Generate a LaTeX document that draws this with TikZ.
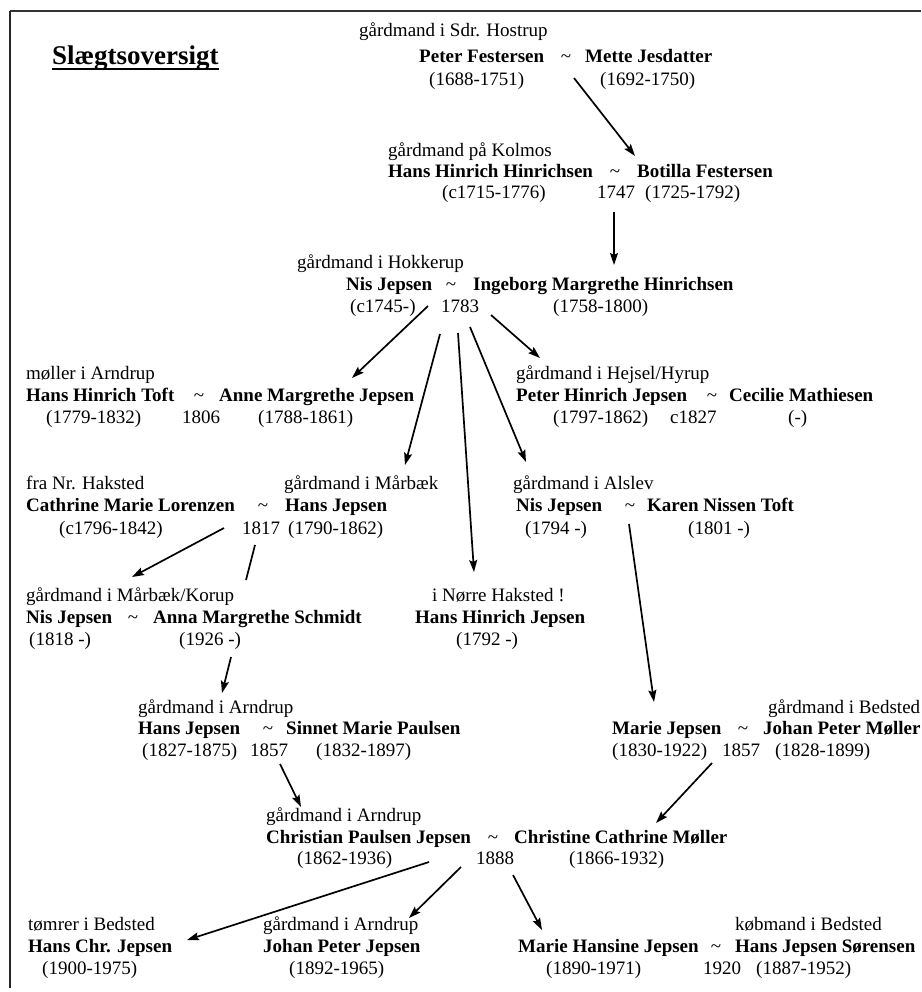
\documentclass[tikz,border=0pt]{standalone}
\usepackage{fontspec}
\setmainfont{Liberation Serif}
\usetikzlibrary{arrows.meta}
\begin{document}
\begin{tikzpicture}[x=1pt,y=-1pt,
  occ/.style={anchor=base west, inner sep=0pt, font=\fontsize{19}{22}\selectfont},
  nm/.style={anchor=base west, inner sep=0pt, font=\fontsize{19}{22}\selectfont\bfseries},
  tl/.style={anchor=base, inner sep=0pt, font=\fontsize{19}{22}\selectfont},
  arr/.style={line width=1.7pt, -{Stealth[length=12pt,width=8pt,inset=2pt]}},
  ln/.style={line width=1.7pt}]
\useasboundingbox (0,0) rectangle (921,992);
\fill[white] (0,0) rectangle (921,992);
% frame
\coordinate (fTL) at (10,11);
\coordinate (fTR) at (921,11);
\coordinate (fBL) at (10,988);
\draw[line width=2.5pt, black!80] (fTL) -- (fTR);
\draw[line width=1.5pt, black!85] (fTL) -- (fBL);
% title
\node[anchor=base west, inner sep=0pt, font=\fontsize{27}{30}\selectfont\bfseries] (title) at (52,65) {Slægtsoversigt};
\draw[line width=1.2pt] ([yshift=-4pt]title.base west) -- ([yshift=-4pt]title.base east);
% A
\node[occ] (Ao) at (359,37) {gårdmand i Sdr. Hostrup};
\node[nm] (Ah) at (419,63) {Peter Festersen};
\node[tl] (At) at (566,63) {\textasciitilde};
\node[nm] (Aw) at (585,63) {Mette Jesdatter};
\node[occ] (Ahd) at (429,86) {(1688-1751)};
\node[occ] (Awd) at (600,86) {(1692-1750)};
% B
\node[occ] (Bo) at (388,157) {gårdmand på Kolmos};
\node[nm] (Bh) at (388,178) {Hans Hinrich Hinrichsen};
\node[tl] (Bt) at (615,178) {\textasciitilde};
\node[nm] (Bw) at (637,178) {Botilla Festersen};
\node[occ] (Bhd) at (442,199) {(c1715-1776)};
\node[occ] (By) at (597,199) {1747};
\node[occ] (Bwd) at (645,199) {(1725-1792)};
% C
\node[occ] (Co) at (297,268) {gårdmand i Hokkerup};
\node[nm] (Ch) at (346,290) {Nis Jepsen};
\node[tl] (Ct) at (451,290) {\textasciitilde};
\node[nm] (Cw) at (473,290) {Ingeborg Margrethe Hinrichsen};
\node[occ] (Chd) at (350,312) {(c1745-)};
\node[occ] (Cy) at (441,312) {1783};
\node[occ] (Cwd) at (553,312) {(1758-1800)};
% D
\node[occ] (Do) at (26,379) {møller i Arndrup};
\node[nm] (Dh) at (26,401) {Hans Hinrich Toft};
\node[tl] (Dt) at (199,401) {\textasciitilde};
\node[nm] (Dw) at (219,401) {Anne Margrethe Jepsen};
\node[occ] (Dhd) at (46,423) {(1779-1832)};
\node[occ] (Dy) at (182,423) {1806};
\node[occ] (Dwd) at (258,423) {(1788-1861)};
% E
\node[occ] (Eo) at (516,379) {gårdmand i Hejsel/Hyrup};
\node[nm] (Eh) at (516,401) {Peter Hinrich Jepsen};
\node[tl] (Et) at (712,401) {\textasciitilde};
\node[nm] (Ew) at (729,401) {Cecilie Mathiesen};
\node[occ] (Ehd) at (553,423) {(1797-1862)};
\node[occ] (Ey) at (670,423) {c1827};
\node[occ] (Ewd) at (788,423) {(-)};
% F
\node[occ] (Fo1) at (26,489) {fra Nr. Haksted};
\node[occ] (Fo2) at (284,489) {gårdmand i Mårbæk};
\node[nm] (Fw) at (26,511) {Cathrine Marie Lorenzen};
\node[tl] (Ft) at (263,511) {\textasciitilde};
\node[nm] (Fh) at (285,511) {Hans Jepsen};
\node[occ] (Fwd) at (59,534) {(c1796-1842)};
\node[occ] (Fy) at (242,534) {1817};
\node[occ] (Fhd) at (288,534) {(1790-1862)};
% G
\node[occ] (Go) at (513,489) {gårdmand i Alslev};
\node[nm] (Gh) at (516,511) {Nis Jepsen};
\node[tl] (Gt) at (630,511) {\textasciitilde};
\node[nm] (Gw) at (647,511) {Karen Nissen Toft};
\node[occ] (Ghd) at (525,534) {(1794 -)};
\node[occ] (Gwd) at (688,534) {(1801 -)};
% H
\node[occ] (Ho) at (26,601) {gårdmand i Mårbæk/Korup};
\node[nm] (Hh) at (26,623) {Nis Jepsen};
\node[tl] (Ht) at (133,623) {\textasciitilde};
\node[nm] (Hw) at (153,623) {Anna Margrethe Schmidt};
\node[occ] (Hhd) at (29,645) {(1818 -)};
\node[occ] (Hwd) at (179,645) {(1926 -)};
% I
\node[occ] (Io) at (432,601) {i Nørre Haksted !};
\node[nm] (Ih) at (415,623) {Hans Hinrich Jepsen};
\node[occ] (Ihd) at (456,645) {(1792 -)};
% J
\node[occ] (Jo) at (138,713) {gårdmand i Arndrup};
\node[nm] (Jh) at (138,734) {Hans Jepsen};
\node[tl] (Jt) at (268,734) {\textasciitilde};
\node[nm] (Jw) at (286,734) {Sinnet Marie Paulsen};
\node[occ] (Jhd) at (142,756) {(1827-1875)};
\node[occ] (Jy) at (250,756) {1857};
\node[occ] (Jwd) at (316,756) {(1832-1897)};
% K
\node[occ] (Ko) at (768,713) {gårdmand i Bedsted};
\node[nm] (Kw) at (612,734) {Marie Jepsen};
\node[tl] (Kt) at (743,734) {\textasciitilde};
\node[nm] (Kh) at (763,734) {Johan Peter Møller};
\node[occ] (Kwd) at (612,756) {(1830-1922)};
\node[occ] (Ky) at (722,756) {1857};
\node[occ] (Khd) at (775,756) {(1828-1899)};
% L
\node[occ] (Lo) at (266,821) {gårdmand i Arndrup};
\node[nm] (Lh) at (266,843) {Christian Paulsen Jepsen};
\node[tl] (Lt) at (493,843) {\textasciitilde};
\node[nm] (Lw) at (514,843) {Christine Cathrine Møller};
\node[occ] (Lhd) at (297,864) {(1862-1936)};
\node[occ] (Ly) at (476,864) {1888};
\node[occ] (Lwd) at (569,864) {(1866-1932)};
% M
\node[occ] (Mo) at (28,930) {tømrer i Bedsted};
\node[nm] (Mh) at (28,952) {Hans Chr. Jepsen};
\node[occ] (Mhd) at (42,974) {(1900-1975)};
% N
\node[occ] (No) at (263,930) {gårdmand i Arndrup};
\node[nm] (Nh) at (263,952) {Johan Peter Jepsen};
\node[occ] (Nhd) at (289,974) {(1892-1965)};
% O
\node[occ] (Oo) at (735,930) {købmand i Bedsted};
\node[nm] (Ow) at (518,952) {Marie Hansine Jepsen};
\node[tl] (Ot) at (716,952) {\textasciitilde};
\node[nm] (Oh) at (735,952) {Hans Jepsen Sørensen};
\node[occ] (Owd) at (546,974) {(1890-1971)};
\node[occ] (Oy) at (703,974) {1920};
\node[occ] (Ohd) at (756,974) {(1887-1952)};
% connector end points
\coordinate (s1) at (574,78);  \coordinate (e1) at (635,156);
\coordinate (s2) at (614,212); \coordinate (e2) at (614,265);
\coordinate (s3) at (428,306); \coordinate (e3) at (352,378);
\coordinate (s4) at (440,334); \coordinate (e4) at (405,465);
\coordinate (s5) at (458,333); \coordinate (e5) at (474,572);
\coordinate (s6) at (470,327); \coordinate (e6) at (526,462);
\coordinate (s7) at (491,315); \coordinate (e7) at (540,358);
\coordinate (s8) at (224,528); \coordinate (e8) at (132,577);
\coordinate (s9) at (255,545); \coordinate (m9) at (246,580);
\coordinate (n9) at (231,657); \coordinate (e9) at (222,693);
\coordinate (s10) at (629,524); \coordinate (e10) at (654,702);
\coordinate (s11) at (280,764); \coordinate (e11) at (301,807);
\coordinate (s12) at (712,763); \coordinate (e12) at (656,823);
\coordinate (s13) at (429,862); \coordinate (e13) at (187,940);
\coordinate (s14) at (461,867); \coordinate (e14) at (409,918);
\coordinate (s15) at (513,875); \coordinate (e15) at (542,930);
% connectors
\draw[arr] (s1) -- (e1);
\draw[arr] (s2) -- (e2);
\draw[arr] (s3) -- (e3);
\draw[arr] (s4) -- (e4);
\draw[arr] (s5) -- (e5);
\draw[arr] (s6) -- (e6);
\draw[arr] (s7) -- (e7);
\draw[arr] (s8) -- (e8);
\draw[ln] (s9) -- (m9);
\draw[arr] (n9) -- (e9);
\draw[arr] (s10) -- (e10);
\draw[arr] (s11) -- (e11);
\draw[arr] (s12) -- (e12);
\draw[arr] (s13) -- (e13);
\draw[arr] (s14) -- (e14);
\draw[arr] (s15) -- (e15);
\end{tikzpicture}
\end{document}
